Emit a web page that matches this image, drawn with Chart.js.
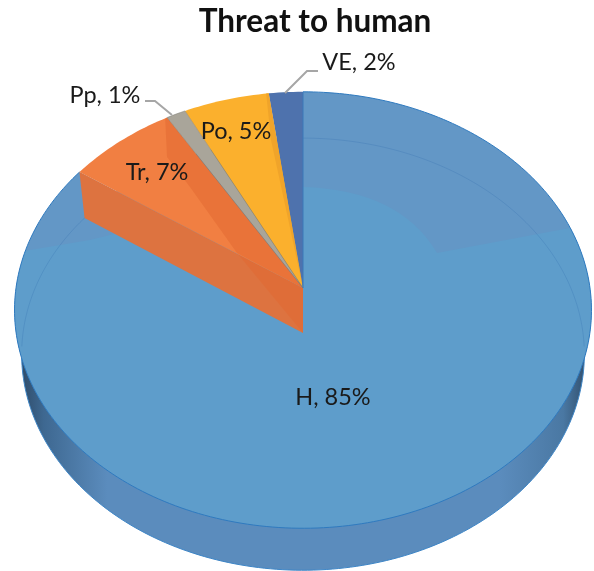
<!DOCTYPE html>
<html>
<head>
<meta charset="utf-8">
<script src="https://cdn.jsdelivr.net/npm/chart.js@4/dist/chart.umd.min.js"></script>
<style>
body { margin: 0; background: #fff; }
</style>
</head>
<body>
<canvas id="pie" width="594" height="571"></canvas>
<script>
var categories = ['H', 'Tr', 'Pp', 'Po', 'VE'];
var shares = [84.6, 6.8, 1.2, 5.3, 2.1];
var shownPercent = [85, 7, 1, 5, 2];
var colors = ['#6397c6', '#f17f42', '#a9a59a', '#fbb02d', '#4e72ad'];

// the tilted disc, seen in perspective: top face and bottom face
var topFace = { cx: 303, cy: 288, a: 287, b: 216, k: 0.101 };
var bottomFace = { cx: 303, cy: 333, a: 280, b: 214, k: 0.098 };

// where each label sits, same order as categories
var labelSpots = [[333, 397], [157, 172], [105, 95], [236, 131], [359, 62]];

function project(face, angle) {
    var t = angle + Math.PI / 2;
    var u = Math.sin(t), v = Math.cos(t);
    var w = 1 + face.k * v;
    return [face.cx + face.a * u / w, face.cy - face.b * v / w];
}

function rimPath(ctx, face, from, to, first) {
    var steps = Math.max(2, Math.ceil(Math.abs(to - from) / 0.02));
    for (var i = 0; i <= steps; i++) {
        var p = project(face, from + (to - from) * i / steps);
        if (i === 0 && first) ctx.moveTo(p[0], p[1]);
        else ctx.lineTo(p[0], p[1]);
    }
}

function slicePath(ctx, face, arc) {
    ctx.beginPath();
    ctx.moveTo(face.cx, face.cy);
    rimPath(ctx, face, arc.startAngle, arc.endAngle, false);
    ctx.closePath();
}

function poly(ctx, pts, fill) {
    ctx.beginPath();
    ctx.moveTo(pts[0][0], pts[0][1]);
    for (var i = 1; i < pts.length; i++) ctx.lineTo(pts[i][0], pts[i][1]);
    ctx.closePath();
    ctx.fillStyle = fill;
    ctx.fill();
}

var disc3d = {
    id: 'disc3d',
    // the library works out the angles, this just draws them on the tilted disc
    beforeDatasetDraw: function () { return false; },
    afterDatasetsDraw: function (chart) {
        var ctx = chart.ctx;
        var arcs = chart.getDatasetMeta(0).data;
        var full = Math.PI * 2;
        ctx.save();

        // side wall
        var wall = ctx.createLinearGradient(15, 0, 592, 0);
        wall.addColorStop(0, '#2b4560');
        wall.addColorStop(0.05, '#3e6891');
        wall.addColorStop(0.16, '#5b8cbd');
        wall.addColorStop(0.84, '#5b8cbd');
        wall.addColorStop(0.95, '#4a78a3');
        wall.addColorStop(1, '#2b4560');
        ctx.beginPath();
        rimPath(ctx, bottomFace, 0, full, true);
        ctx.closePath();
        ctx.fillStyle = wall;
        ctx.fill();
        ctx.strokeStyle = '#3d85c6';
        ctx.lineWidth = 1;
        ctx.stroke();

        // big slice
        var h = arcs[0];
        slicePath(ctx, topFace, h);
        ctx.fillStyle = colors[0];
        ctx.fill();
        ctx.save();
        slicePath(ctx, topFace, h);
        ctx.clip();
        ctx.beginPath();
        ctx.moveTo(594, 225);
        ctx.lineTo(570, 228);
        ctx.lineTo(437, 253);
        ctx.quadraticCurveTo(400, 190, 303, 187);
        ctx.lineTo(90, 240);
        ctx.lineTo(0, 255);
        ctx.lineTo(0, 571);
        ctx.lineTo(594, 571);
        ctx.closePath();
        ctx.fillStyle = '#5e9dcb';
        ctx.fill();
        ctx.restore();

        // back of the bottom face shows through
        ctx.beginPath();
        rimPath(ctx, bottomFace, Math.PI * 0.98, Math.PI * 2.02, true);
        ctx.strokeStyle = 'rgba(40,100,170,0.22)';
        ctx.lineWidth = 1;
        ctx.stroke();

        // cut face of Tr, between the top and bottom faces
        var tr = arcs[1];
        var a = project(topFace, tr.startAngle);
        var b = project(bottomFace, tr.startAngle);
        poly(ctx, [[303, 288], a, b, [303, 333]], '#dd7340');
        poly(ctx, [[237, 253], [303, 288], [303, 333]], 'rgba(226,104,48,0.5)');

        // the small slices
        for (var i = 1; i < arcs.length; i++) {
            slicePath(ctx, topFace, arcs[i]);
            ctx.fillStyle = colors[i];
            ctx.fill();
        }
        ctx.save();
        slicePath(ctx, topFace, tr);
        ctx.clip();
        poly(ctx, [[165, 115], [167, 157], [190, 187], [237, 253], [303, 288], [190, 100]], 'rgba(214,90,36,0.3)');
        ctx.restore();
        ctx.save();
        slicePath(ctx, topFace, arcs[3]);
        ctx.clip();
        poly(ctx, [[266, 92], [271, 140], [303, 288], [280, 92]], '#f0a42a');
        ctx.restore();
        slicePath(ctx, topFace, arcs[2]);
        ctx.strokeStyle = 'rgba(120,118,110,0.6)';
        ctx.lineWidth = 0.8;
        ctx.stroke();

        // front edge and back edge of the top face
        ctx.beginPath();
        rimPath(ctx, topFace, h.startAngle, h.endAngle, true);
        ctx.strokeStyle = '#2f7abf';
        ctx.lineWidth = 1;
        ctx.stroke();
        ctx.beginPath();
        ctx.moveTo(303, 92);
        ctx.lineTo(303, 288);
        ctx.strokeStyle = '#3a78b8';
        ctx.lineWidth = 1;
        ctx.stroke();

        // leader lines
        ctx.strokeStyle = '#a6a6a6';
        ctx.lineWidth = 2;
        ctx.beginPath();
        ctx.moveTo(145, 101);
        ctx.lineTo(155, 101);
        ctx.lineTo(172, 115);
        ctx.moveTo(318, 71);
        ctx.lineTo(307, 71);
        ctx.lineTo(285, 93);
        ctx.stroke();

        // labels
        ctx.fillStyle = '#1a1a1a';
        ctx.font = '23.5px Lato';
        ctx.textAlign = 'center';
        ctx.textBaseline = 'middle';
        categories.forEach(function (name, i) {
            ctx.fillText(name + ', ' + shownPercent[i] + '%', labelSpots[i][0], labelSpots[i][1]);
        });
        ctx.restore();
    }
};

new Chart(document.getElementById('pie').getContext('2d'), {
    type: 'pie',
    data: {
        labels: categories,
        datasets: [{ data: shares, backgroundColor: colors, borderWidth: 0 }]
    },
    options: {
        responsive: false,
        animation: false,
        layout: { padding: { left: 36 } },
        plugins: {
            legend: { display: false },
            tooltip: { enabled: false },
            title: {
                display: true,
                fullSize: false,
                text: 'Threat to human',
                color: '#111',
                font: { family: 'Lato', size: 31.5, weight: 'bold' },
                padding: { top: 3, bottom: 6 }
            }
        }
    },
    plugins: [disc3d]
});
</script>
</body>
</html>
